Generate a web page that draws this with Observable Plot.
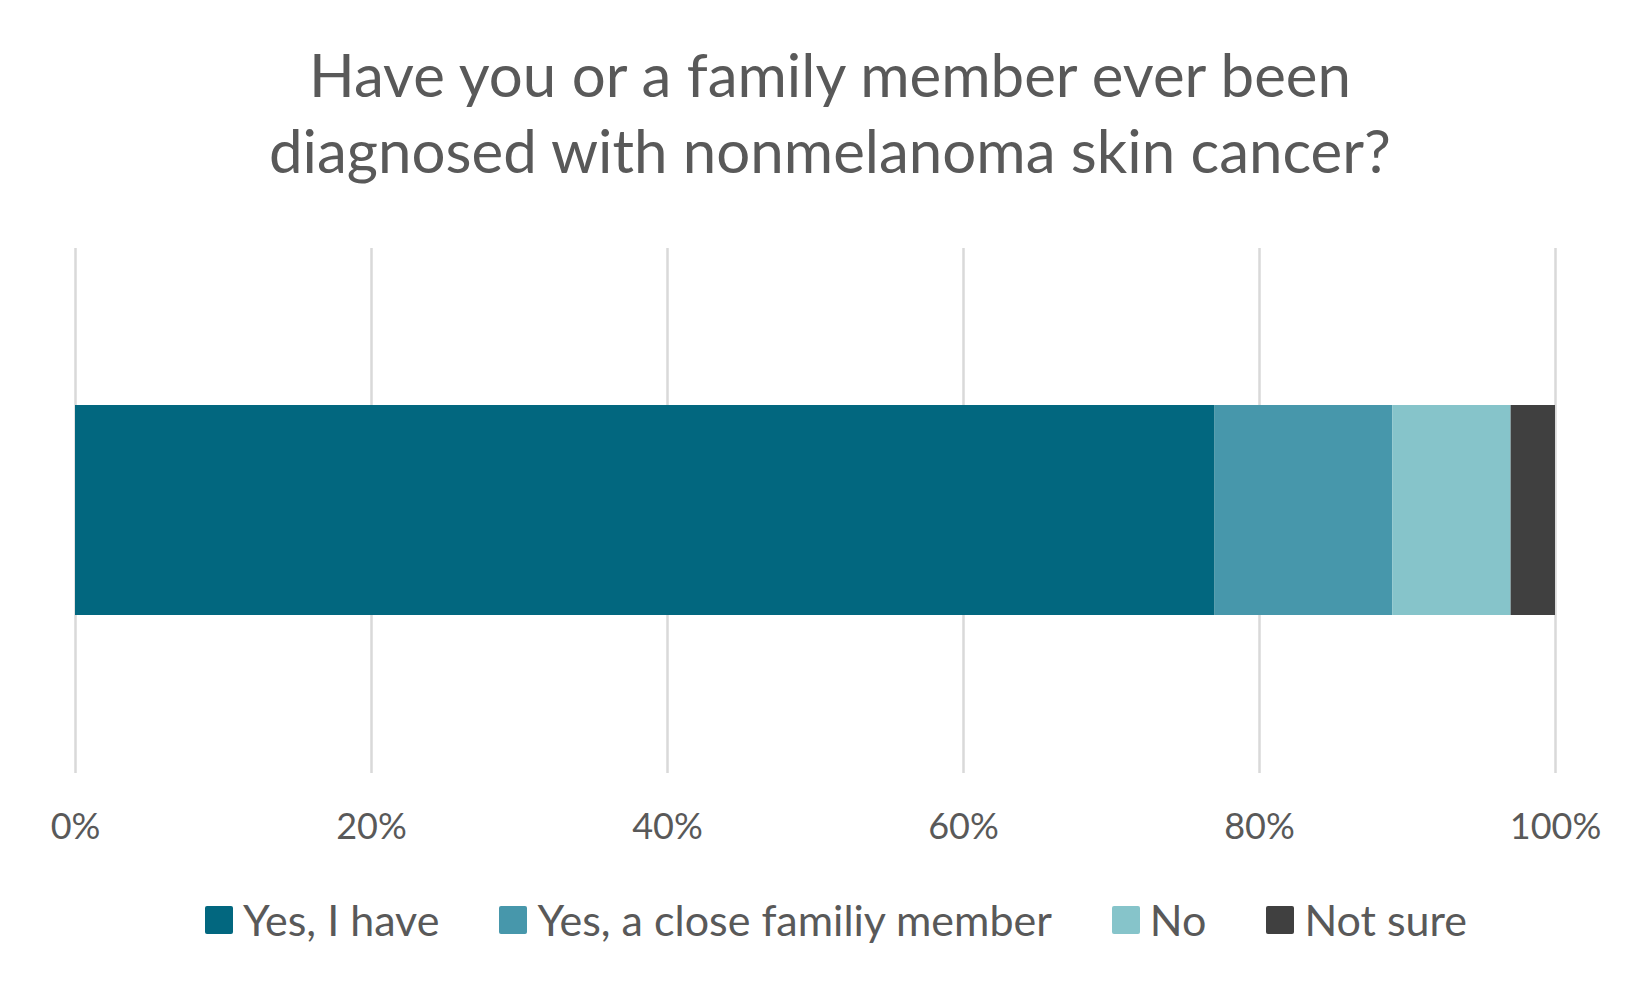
<!DOCTYPE html>
<html>
<head>
<meta charset="utf-8">
<script src="https://cdn.jsdelivr.net/npm/d3@7"></script>
<script src="https://cdn.jsdelivr.net/npm/@observablehq/plot@0.6"></script>
<style>
  html, body { margin: 0; padding: 0; background: #fff; }
  body { width: 1650px; height: 990px; position: relative; overflow: hidden; font-family: Lato, "Open Sans", sans-serif; color: #595959; }
  #title { position: absolute; left: 0; top: 36px; width: 1650px; text-align: center; font-size: 60px; line-height: 76px; color: #595959; padding-left: 10px; box-sizing: border-box; }
  #chart { position: absolute; left: 0; top: 200px; }
  #legend { position: absolute; left: 0; top: 894px; width: 1650px; display: flex; justify-content: center; align-items: center; font-size: 43px; color: #595959; padding-left: 22px; box-sizing: border-box; }
  .item { display: flex; align-items: center; margin: 0 30px; }
  .sw { width: 28px; height: 28px; border-radius: 2px; margin-right: 10px; }
</style>
</head>
<body>
<div id="title">Have you or a family member ever been<br>diagnosed with nonmelanoma skin cancer?</div>
<div id="chart"></div>
<div id="legend"></div>
<script>
const categories = ["Yes, I have", "Yes, a close familiy member", "No", "Not sure"];
const values = [77, 12, 8, 3];
const colors = ["#02677F", "#4797AB", "#86C4CA", "#404040"];
const tickValues = [0, 20, 40, 60, 80, 100];
const tickLabels = ["0%", "20%", "40%", "60%", "80%", "100%"];

const data = categories.map((c, i) => ({answer: c, value: values[i], row: "q"}));

const plot = Plot.plot({
  width: 1650,
  height: 660,
  marginTop: 48,
  marginBottom: 87,
  marginLeft: 75,
  marginRight: 95,
  style: {fontFamily: "Lato, 'Open Sans', sans-serif", fontSize: "36px", color: "#595959", background: "#fff"},
  x: {domain: [0, 100]},
  y: {domain: ["q"], padding: 0.427, axis: null},
  color: {domain: categories, range: colors},
  marks: [
    Plot.ruleX(tickValues, {stroke: "#d9d9d9", strokeWidth: 2.5}),
    Plot.barX(data, Plot.stackX({x: "value", y: "row", fill: "answer", order: null})),
    Plot.axisX({ticks: tickValues, tickSize: 0, tickPadding: 40, tickFormat: (d) => tickLabels[tickValues.indexOf(d)], label: null, fill: "#595959"})
  ]
});
document.getElementById("chart").appendChild(plot);

const legend = document.getElementById("legend");
categories.forEach((c, i) => {
  const item = document.createElement("div");
  item.className = "item";
  const sw = document.createElement("div");
  sw.className = "sw";
  sw.style.background = colors[i];
  const t = document.createElement("span");
  t.textContent = c;
  item.appendChild(sw);
  item.appendChild(t);
  legend.appendChild(item);
});
</script>
</body>
</html>
